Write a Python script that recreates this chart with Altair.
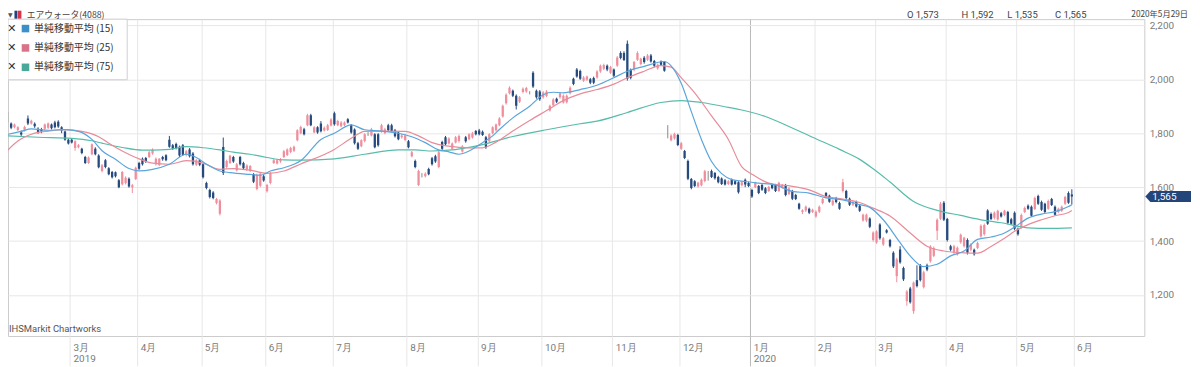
import altair as alt
import pandas as pd

# ---------------- data ----------------
opens = [
    1860, 1836, 1822, 1812, 1803, 1810, 1855, 1836, 1835, 1817,
    1815, 1817, 1820, 1832, 1840, 1843, 1822, 1806, 1776, 1776,
    1745, 1748, 1742, 1712, 1690, 1722, 1742, 1717, 1660, 1700,
    1670, 1656, 1655, 1626, 1611, 1615, 1631, 1600, 1630, 1690,
    1705, 1708, 1712, 1725, 1685, 1682, 1712, 1718, 1776, 1755,
    1760, 1750, 1755, 1719, 1740, 1725, 1683, 1700, 1685, 1615,
    1589, 1580, 1541, 1501, 1749, 1675, 1690, 1712, 1663, 1712,
    1690, 1665, 1660, 1648, 1593, 1605, 1640, 1585, 1615, 1690,
    1688, 1695, 1712, 1719, 1730, 1735, 1774, 1800, 1815, 1830,
    1867, 1803, 1822, 1836, 1810, 1812, 1829, 1874, 1830, 1826,
    1830, 1852, 1830, 1814, 1763, 1752, 1771, 1798, 1792, 1796,
    1796, 1807, 1800, 1830, 1830, 1811, 1803, 1785, 1775, 1770,
    1715, 1697, 1608, 1646, 1640, 1667, 1707, 1715, 1675, 1767,
    1785, 1762, 1742, 1766, 1771, 1732, 1785, 1778, 1784, 1808,
    1810, 1805, 1785, 1770, 1800, 1811, 1830, 1862, 1911, 1948,
    1958, 1939, 1917, 1953, 1955, 1950, 2024, 1958, 1955, 1933,
    1938, 1884, 1904, 1928, 1933, 1914, 1915, 1948, 2002, 2036,
    2031, 1995, 1998, 2000, 2005, 2007, 2029, 2039, 2050, 2024,
    2036, 2051, 2098, 2098, 2132, 2035, 2036, 2073, 2057, 2080,
    2073, 2088, 2068, 2040, 2066, 2064, 1805, 1774, 1780, 1793,
    1742, 1734, 1697, 1630, 1622, 1602, 1607, 1623, 1640, 1660,
    1652, 1638, 1632, 1626, 1612, 1628, 1622, 1618, 1607, 1627,
    1615, 1589, 1600, 1604, 1608, 1596, 1586, 1608, 1608, 1586,
    1598, 1608, 1575, 1586, 1571, 1538, 1508, 1513, 1520, 1508,
    1491, 1509, 1541, 1578, 1568, 1535, 1560, 1541, 1586, 1586,
    1557, 1535, 1545, 1531, 1476, 1476, 1484, 1404, 1395, 1461,
    1387, 1440, 1404, 1357, 1270, 1369, 1300, 1177, 1224, 1140,
    1255, 1310, 1229, 1310, 1325, 1345, 1438, 1483, 1542, 1482,
    1381, 1357, 1350, 1396, 1381, 1404, 1368, 1368, 1374, 1417,
    1425, 1513, 1500, 1486, 1480, 1503, 1497, 1508, 1481, 1505,
    1446, 1450, 1508, 1531, 1527, 1519, 1567, 1545, 1538, 1520,
    1556, 1527, 1508, 1512, 1538, 1578, 1573,
]
highs = [
    1878, 1840, 1836, 1826, 1810, 1828, 1866, 1850, 1840, 1822,
    1820, 1836, 1840, 1836, 1846, 1848, 1826, 1810, 1780, 1782,
    1774, 1760, 1746, 1716, 1714, 1762, 1748, 1722, 1686, 1704,
    1674, 1660, 1658, 1630, 1660, 1640, 1636, 1612, 1676, 1694,
    1710, 1712, 1734, 1744, 1710, 1708, 1716, 1722, 1790, 1760,
    1765, 1754, 1760, 1738, 1745, 1730, 1704, 1705, 1688, 1620,
    1594, 1585, 1560, 1555, 1784, 1702, 1720, 1716, 1690, 1716,
    1694, 1685, 1682, 1652, 1650, 1655, 1645, 1612, 1656, 1704,
    1705, 1708, 1738, 1744, 1750, 1754, 1815, 1828, 1820, 1872,
    1872, 1826, 1826, 1845, 1825, 1835, 1856, 1880, 1850, 1845,
    1844, 1856, 1834, 1818, 1768, 1778, 1800, 1804, 1820, 1800,
    1800, 1835, 1820, 1835, 1835, 1816, 1808, 1798, 1798, 1775,
    1734, 1702, 1665, 1652, 1655, 1672, 1712, 1720, 1734, 1772,
    1790, 1785, 1766, 1790, 1795, 1756, 1790, 1800, 1805, 1812,
    1816, 1810, 1790, 1800, 1826, 1836, 1860, 1906, 1948, 1974,
    1962, 1944, 1938, 1970, 1972, 1956, 2030, 1962, 1960, 1956,
    1960, 1906, 1930, 1932, 1952, 1944, 1944, 1974, 2006, 2042,
    2036, 2012, 2014, 2005, 2010, 2034, 2055, 2058, 2055, 2050,
    2040, 2086, 2104, 2104, 2144, 2040, 2068, 2104, 2080, 2086,
    2094, 2094, 2072, 2058, 2070, 2068, 1830, 1796, 1802, 1798,
    1768, 1738, 1702, 1634, 1626, 1620, 1632, 1664, 1660, 1665,
    1656, 1642, 1636, 1630, 1626, 1632, 1626, 1622, 1622, 1632,
    1620, 1594, 1620, 1608, 1612, 1600, 1605, 1612, 1612, 1620,
    1612, 1612, 1600, 1590, 1575, 1542, 1518, 1532, 1524, 1520,
    1514, 1532, 1560, 1582, 1572, 1554, 1564, 1546, 1631, 1590,
    1561, 1550, 1550, 1536, 1502, 1502, 1488, 1436, 1440, 1466,
    1415, 1444, 1408, 1362, 1338, 1381, 1305, 1218, 1230, 1250,
    1310, 1315, 1290, 1316, 1385, 1380, 1484, 1545, 1548, 1486,
    1386, 1386, 1380, 1428, 1416, 1410, 1392, 1372, 1398, 1462,
    1465, 1518, 1506, 1510, 1516, 1508, 1516, 1512, 1486, 1510,
    1450, 1502, 1528, 1536, 1532, 1565, 1572, 1550, 1542, 1554,
    1560, 1532, 1524, 1532, 1568, 1584, 1592,
]
lows = [
    1840, 1815, 1818, 1808, 1790, 1806, 1830, 1832, 1820, 1798,
    1800, 1812, 1816, 1814, 1818, 1820, 1800, 1772, 1758, 1762,
    1735, 1744, 1722, 1686, 1686, 1718, 1718, 1670, 1655, 1670,
    1644, 1632, 1636, 1596, 1606, 1610, 1598, 1578, 1626, 1664,
    1680, 1690, 1708, 1720, 1680, 1678, 1698, 1696, 1746, 1738,
    1740, 1712, 1716, 1714, 1710, 1680, 1678, 1678, 1632, 1592,
    1558, 1555, 1536, 1495, 1645, 1670, 1686, 1690, 1658, 1680,
    1666, 1660, 1656, 1615, 1588, 1600, 1620, 1580, 1610, 1686,
    1684, 1690, 1708, 1715, 1726, 1730, 1770, 1796, 1792, 1826,
    1826, 1800, 1798, 1803, 1806, 1808, 1825, 1828, 1826, 1822,
    1826, 1836, 1798, 1758, 1738, 1748, 1766, 1790, 1788, 1744,
    1750, 1802, 1796, 1806, 1804, 1784, 1774, 1780, 1770, 1744,
    1710, 1670, 1604, 1636, 1636, 1644, 1680, 1690, 1670, 1738,
    1755, 1758, 1738, 1762, 1765, 1728, 1765, 1774, 1780, 1792,
    1792, 1790, 1742, 1765, 1796, 1806, 1826, 1858, 1906, 1944,
    1934, 1888, 1912, 1948, 1950, 1944, 1968, 1928, 1920, 1928,
    1934, 1880, 1900, 1912, 1928, 1910, 1910, 1944, 1978, 2006,
    1998, 1990, 1994, 1982, 1982, 2002, 2024, 2034, 2030, 2020,
    2008, 2046, 2074, 2068, 1995, 2000, 2030, 2068, 2052, 2058,
    2068, 2062, 2045, 2036, 2050, 2028, 1781, 1770, 1776, 1752,
    1738, 1704, 1626, 1592, 1600, 1598, 1603, 1618, 1624, 1634,
    1628, 1614, 1608, 1606, 1608, 1606, 1608, 1576, 1603, 1600,
    1600, 1560, 1596, 1574, 1586, 1574, 1582, 1592, 1582, 1582,
    1594, 1566, 1570, 1552, 1552, 1516, 1500, 1508, 1500, 1504,
    1486, 1504, 1536, 1560, 1542, 1530, 1540, 1516, 1580, 1555,
    1530, 1530, 1524, 1508, 1472, 1470, 1448, 1398, 1390, 1405,
    1382, 1428, 1376, 1300, 1247, 1316, 1252, 1160, 1168, 1130,
    1228, 1250, 1224, 1288, 1320, 1340, 1404, 1478, 1474, 1398,
    1362, 1352, 1346, 1390, 1376, 1350, 1362, 1346, 1370, 1412,
    1420, 1460, 1478, 1480, 1476, 1487, 1492, 1462, 1460, 1440,
    1420, 1446, 1504, 1516, 1490, 1515, 1534, 1512, 1504, 1516,
    1530, 1494, 1504, 1508, 1534, 1538, 1535,
]
closes = [
    1860, 1820, 1832, 1822, 1795, 1823, 1836, 1846, 1826, 1803,
    1806, 1832, 1836, 1818, 1822, 1825, 1810, 1776, 1762, 1766,
    1770, 1755, 1727, 1690, 1710, 1759, 1722, 1674, 1681, 1675,
    1648, 1637, 1640, 1600, 1656, 1635, 1602, 1607, 1672, 1668,
    1685, 1695, 1729, 1740, 1705, 1705, 1703, 1700, 1750, 1742,
    1745, 1717, 1720, 1733, 1715, 1685, 1700, 1683, 1637, 1597,
    1563, 1560, 1556, 1550, 1652, 1697, 1716, 1695, 1685, 1685,
    1670, 1680, 1678, 1620, 1645, 1650, 1625, 1608, 1652, 1700,
    1700, 1703, 1733, 1740, 1745, 1750, 1811, 1823, 1796, 1867,
    1830, 1822, 1803, 1807, 1820, 1830, 1851, 1833, 1845, 1840,
    1840, 1840, 1803, 1763, 1742, 1774, 1796, 1798, 1815, 1748,
    1755, 1830, 1815, 1811, 1808, 1789, 1778, 1792, 1792, 1748,
    1729, 1675, 1660, 1646, 1650, 1648, 1685, 1695, 1729, 1742,
    1759, 1780, 1762, 1785, 1790, 1751, 1770, 1796, 1800, 1796,
    1796, 1793, 1748, 1796, 1822, 1832, 1855, 1902, 1943, 1969,
    1939, 1902, 1933, 1965, 1968, 1950, 1973, 1933, 1926, 1951,
    1955, 1902, 1925, 1917, 1948, 1939, 1939, 1969, 1983, 2010,
    2002, 2007, 2010, 1987, 1987, 2029, 2050, 2053, 2036, 2046,
    2013, 2081, 2079, 2072, 2002, 2006, 2064, 2098, 2076, 2064,
    2088, 2066, 2050, 2054, 2054, 2032, 1805, 1792, 1797, 1756,
    1763, 1708, 1631, 1597, 1604, 1616, 1627, 1659, 1640, 1638,
    1633, 1618, 1612, 1610, 1622, 1610, 1612, 1581, 1618, 1610,
    1604, 1565, 1615, 1578, 1590, 1578, 1601, 1596, 1586, 1616,
    1608, 1571, 1596, 1557, 1556, 1520, 1514, 1527, 1505, 1516,
    1509, 1527, 1556, 1564, 1546, 1550, 1545, 1520, 1618, 1560,
    1535, 1545, 1528, 1512, 1498, 1498, 1453, 1432, 1435, 1410,
    1410, 1432, 1381, 1306, 1332, 1321, 1258, 1213, 1173, 1246,
    1233, 1255, 1284, 1294, 1380, 1374, 1479, 1538, 1479, 1404,
    1368, 1381, 1375, 1423, 1412, 1357, 1387, 1351, 1393, 1457,
    1460, 1464, 1482, 1505, 1512, 1491, 1512, 1468, 1464, 1446,
    1425, 1497, 1523, 1520, 1494, 1560, 1538, 1516, 1508, 1549,
    1534, 1498, 1520, 1527, 1563, 1542, 1565,
]

# moving averages (trading-day index, price)
ma15_idx = [0, 4, 7, 12, 17, 21, 25, 28, 32, 36, 39, 43, 48, 53, 56, 59, 63, 66, 72, 75,
            78, 82, 85, 87, 93, 97, 102, 106, 111, 116, 120, 124, 128, 131, 134, 137, 141, 144, 146, 150,
            155, 159, 162, 165, 170, 175, 180, 184, 189, 195, 197, 200, 203, 206, 209, 212, 215, 219, 223, 228,
            233, 238, 243, 248, 253, 256, 260, 265, 268, 272, 276, 280, 284, 288, 292, 296, 299, 303, 307, 311,
            315, 316]
ma15_val = [1796, 1807, 1816, 1811, 1813, 1807, 1777, 1735, 1703, 1669, 1660, 1666, 1685, 1722, 1710, 1685, 1660, 1654, 1647, 1644,
            1660, 1672, 1685, 1698, 1777, 1800, 1831, 1813, 1808, 1800, 1787, 1765, 1738, 1731, 1722, 1734, 1765, 1790, 1814, 1857,
            1900, 1943, 1952, 1950, 1962, 1978, 2006, 2030, 2048, 2066, 2050, 1985, 1880, 1777, 1695, 1650, 1628, 1621, 1615, 1608,
            1584, 1578, 1560, 1553, 1535, 1525, 1479, 1394, 1345, 1305, 1314, 1345, 1363, 1406, 1415, 1430, 1452, 1485, 1500, 1509,
            1528, 1535]
ma25_idx = [0, 3, 7, 12, 17, 22, 27, 30, 34, 38, 43, 48, 53, 58, 63, 67, 72, 77, 82, 87,
            97, 102, 106, 111, 118, 122, 126, 131, 137, 141, 145, 150, 155, 160, 165, 170, 175, 180, 184, 189,
            194, 197, 200, 204, 209, 214, 218, 221, 226, 233, 238, 243, 248, 253, 257, 262, 268, 273, 278, 283,
            288, 292, 296, 299, 303, 307, 311, 315, 316]
ma25_val = [1737, 1771, 1796, 1808, 1813, 1807, 1787, 1763, 1734, 1710, 1689, 1685, 1698, 1689, 1666, 1669, 1663, 1651, 1660, 1686,
            1740, 1781, 1807, 1808, 1807, 1790, 1765, 1752, 1746, 1746, 1767, 1808, 1847, 1884, 1921, 1946, 1962, 1982, 2006, 2030,
            2051, 2045, 2006, 1950, 1864, 1777, 1675, 1648, 1615, 1603, 1590, 1565, 1556, 1543, 1522, 1493, 1430, 1381, 1363, 1357,
            1355, 1380, 1410, 1436, 1461, 1479, 1494, 1506, 1513]
ma75_idx = [0, 9, 19, 25, 28, 34, 40, 43, 48, 53, 58, 63, 67, 72, 77, 82, 87, 97, 106, 116,
            121, 126, 131, 140, 150, 160, 170, 175, 184, 194, 200, 206, 214, 218, 225, 232, 239, 247, 253, 257,
            262, 269, 276, 283, 290, 295, 303, 309, 316]
ma75_val = [1790, 1785, 1781, 1772, 1763, 1747, 1737, 1737, 1740, 1750, 1746, 1738, 1730, 1722, 1710, 1701, 1700, 1705, 1722, 1738,
            1738, 1734, 1737, 1755, 1788, 1813, 1835, 1845, 1877, 1914, 1921, 1914, 1896, 1886, 1862, 1825, 1785, 1740, 1703, 1668,
            1619, 1547, 1514, 1495, 1477, 1468, 1449, 1447, 1449]

# axis ticks: month boundaries (between trading days)
month_ticks = [18.5, 38.5, 57.5, 76.5, 96.5, 118.5, 139.5, 158.5, 179.5, 199.5,
               220.5, 239.5, 257.5, 278.5, 299.5, 316.5]
month_labels = ["3月", "4月", "5月", "6月", "7月", "8月", "9月", "10月", "11月", "12月",
                "1月", "2月", "3月", "4月", "5月", "6月"]
year_ticks = [18.5, 220.5]
year_labels = ["2019", "2020"]
price_ticks = [1200, 1400, 1600, 1800, 2000, 2200]

header_name = "エアウォータ(4088)"
header_ohlc = ["O 1,573", "H 1,592", "L 1,535", "C 1,565"]
header_date = "2020年5月29日"
legend_labels = ["単純移動平均 (15)", "単純移動平均 (25)", "単純移動平均 (75)"]
credit = "IHSMarkit Chartworks"

# ---------------- styling ----------------
UP = "#ef8f9d"
DOWN = "#264a7e"
FLAT = "#8a8a8a"
C15 = "#5aa5dc"
C25 = "#e88c9a"
C75 = "#58bcaa"
L15 = "#3d8fc7"
L25 = "#d9738a"
L75 = "#4aa89a"
FONT = "Roboto"
JFONT = "Noto Sans CJK JP"

W, H = 1144, 319
HEAD_Y = -4

n = len(closes)
assert len(opens) == n and len(highs) == n and len(lows) == n, (len(opens), len(highs), len(lows), n)

df = pd.DataFrame({"i": list(range(n)), "open": opens, "high": highs, "low": lows, "close": closes})
df["dir"] = ["up" if c > o else ("down" if c < o else "flat") for o, c in zip(opens, closes)]

xs = alt.Scale(domain=[1.55, 336.05], nice=False, zero=False)
ys = alt.Scale(domain=[1047.8, 2223.2], nice=False, zero=False)

year_map = dict(zip(year_ticks, year_labels))
parts = []
for v, lab in zip(month_ticks, month_labels):
    if v in year_map:
        parts.append(f"datum.value == {v} ? ['{lab}', '{year_map[v]}']")
    else:
        parts.append(f"datum.value == {v} ? '{lab}'")
label_expr = " : ".join(parts) + " : ''"

year_test = " || ".join(f"datum.value == {v}" for v in year_ticks[1:])

x_axis = alt.Axis(
    values=month_ticks, labelExpr=label_expr, title=None,
    grid=True, gridColor={"condition": {"test": year_test, "value": "#b9b9b9"}, "value": "#e7e7e7"},
    ticks=True, tickSize=30, tickColor={"condition": {"test": year_test, "value": "#b9b9b9"}, "value": "#e7e7e7"},
    domain=False, labelAlign="left", labelBaseline="top", labelOffset=3, labelPadding=-23,
    labelFlush=False, labelOverlap=False, labelBound=False,
    labelFont=FONT, labelFontSize=10, labelColor="#7a7a7a", labelLineHeight=11,
)
y_axis = alt.Axis(
    orient="right", values=price_ticks, labelExpr="format(datum.value, ',')", title=None,
    grid=True, gridColor="#e7e7e7", ticks=False, domain=False, labelPadding=5,
    labelFont=FONT, labelFontSize=10, labelColor="#7a7a7a",
)

X = alt.X("i:Q", scale=xs, axis=x_axis)

layers = []
for d, col in (("up", UP), ("down", DOWN), ("flat", FLAT)):
    layers.append(
        alt.Chart(df).transform_filter(f"datum.dir == '{d}'")
        .mark_rule(color=col, strokeWidth=1, clip=True)
        .encode(x=X, y=alt.Y("low:Q", scale=ys, axis=y_axis), y2="high:Q")
    )
for d, col in (("up", UP), ("down", DOWN)):
    layers.append(
        alt.Chart(df).transform_filter(f"datum.dir == '{d}'")
        .mark_bar(size=2.3, color=col, clip=True)
        .encode(x=X, y=alt.Y("open:Q", scale=ys, axis=y_axis), y2="close:Q")
    )

for idx, val, col in ((ma75_idx, ma75_val, C75), (ma25_idx, ma25_val, C25), (ma15_idx, ma15_val, C15)):
    mdf = pd.DataFrame({"idx": idx, "val": val})
    layers.append(
        alt.Chart(mdf).mark_line(color=col, strokeWidth=1.2, interpolate="monotone", clip=True)
        .encode(x=alt.X("idx:Q", scale=xs, axis=x_axis), y=alt.Y("val:Q", scale=ys, axis=y_axis))
    )

dummy = pd.DataFrame({"d": [0]})

# legend box
layers.append(
    alt.Chart(dummy).mark_rect(fill="white", stroke="#cfcfcf", strokeWidth=1)
    .encode(x=alt.value(0), x2=alt.value(120), y=alt.value(0), y2=alt.value(61))
)
row_y = [9.5, 29, 48.5]
for ry, lab, col in zip(row_y, legend_labels, (L15, L25, L75)):
    layers.append(
        alt.Chart(dummy).mark_text(text="✕", font="DejaVu Sans", fontSize=11, color="#333333",
                                   align="center", baseline="middle")
        .encode(x=alt.value(3.8), y=alt.value(ry))
    )
    layers.append(
        alt.Chart(dummy).mark_rect(color=col)
        .encode(x=alt.value(13.8), x2=alt.value(21.4), y=alt.value(ry - 3.8), y2=alt.value(ry + 3.8))
    )
    layers.append(
        alt.Chart(dummy).mark_text(text=lab, font=JFONT, fontSize=10, color="#333333",
                                   align="left", baseline="middle")
        .encode(x=alt.value(26.3), y=alt.value(ry))
    )

# header
layers.append(
    alt.Chart(dummy).mark_text(text="▼", font="DejaVu Sans", fontSize=6, color="#555555",
                               align="left", baseline="middle")
    .encode(x=alt.value(0), y=alt.value(HEAD_Y))
)
layers.append(
    alt.Chart(dummy).mark_rect(color="#23407a")
    .encode(x=alt.value(6.5), x2=alt.value(9.5), y=alt.value(HEAD_Y - 4.5), y2=alt.value(HEAD_Y + 3.5))
)
layers.append(
    alt.Chart(dummy).mark_rect(color="#d9334a")
    .encode(x=alt.value(10), x2=alt.value(13.5), y=alt.value(HEAD_Y - 4.5), y2=alt.value(HEAD_Y + 3.5))
)
layers.append(
    alt.Chart(dummy).mark_text(text=header_name, font=JFONT, fontSize=8.8, color="#444444",
                               align="left", baseline="middle")
    .encode(x=alt.value(19), y=alt.value(HEAD_Y))
)
for hx, t in zip([905, 960, 1006, 1054], header_ohlc):
    layers.append(
        alt.Chart(dummy).mark_text(text=t, font=FONT, fontSize=9.5, color="#444444",
                                   align="left", baseline="middle")
        .encode(x=alt.value(hx), y=alt.value(HEAD_Y))
    )
layers.append(
    alt.Chart(dummy).mark_text(text=header_date, font=JFONT, fontSize=8.3, color="#444444",
                               align="right", baseline="middle")
    .encode(x=alt.value(1188), y=alt.value(HEAD_Y))
)

# credit
layers.append(
    alt.Chart(dummy).mark_text(text=credit, font=FONT, fontSize=9.5, color="#555555",
                               align="left", baseline="middle")
    .encode(x=alt.value(1), y=alt.value(312))
)

# last price tag
last_df = pd.DataFrame({"c": [closes[-1]]})
tag_path = "M-1,0 L-0.78,-0.24 L1,-0.24 L1,0.24 L-0.78,0.24 Z"
layers.append(
    alt.Chart(last_df).mark_point(shape=tag_path, filled=True, size=2116, color="#23457a",
                                  opacity=1, strokeWidth=0)
    .encode(x=alt.value(W + 24), y=alt.Y("c:Q", scale=ys, axis=y_axis))
)
layers.append(
    alt.Chart(last_df).mark_text(font=FONT, fontSize=10, color="white", align="left", baseline="middle")
    .encode(x=alt.value(W + 8), y=alt.Y("c:Q", scale=ys, axis=y_axis), text=alt.Text("c:Q", format=","))
)

chart = (
    alt.layer(*layers)
    .properties(width=W, height=H, autosize=alt.AutoSizeParams(type="none"),
                padding={"left": 0, "top": 10, "right": 48, "bottom": 30})
    .configure_view(stroke="#cccccc", strokeWidth=1)
)

chart.save("out.html", embed_options={"renderer": "svg", "actions": False})
